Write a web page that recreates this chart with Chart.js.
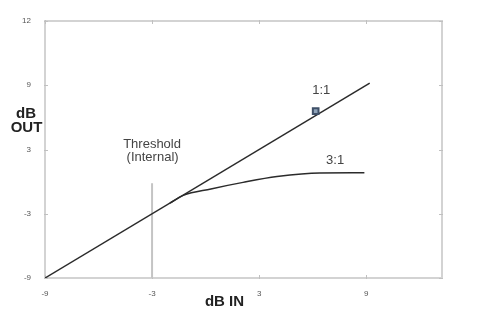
<!DOCTYPE html>
<html>
<head>
<meta charset="utf-8">
<script src="https://cdn.jsdelivr.net/npm/chart.js@4/dist/chart.umd.min.js"></script>
<style>
html,body{margin:0;padding:0;background:#fff;}
#wrap{width:484px;height:328px;}
</style>
</head>
<body>
<div id="wrap"><canvas id="c" width="484" height="328"></canvas></div>
<script>
// ---- data ----
const xTickValues = [-9, -3, 3, 9];
const xTickLabels = ['-9', '-3', '3', '9'];
const yTickValues = [-9, -3, 3, 9, 15];
const yTickLabels = ['-9', '-3', '3', '9', '12'];
const xRange = [-9, 13.25];
const yRange = [-9, 15];

const ratio1X = [-9, 9.2];
const ratio1Y = [-9, 9.2];
const ratio3X = [-2.0, -1.25, 0.3, 2.1, 4.0, 6.4, 8.9];
const ratio3Y = [-2.0, -1.28, -0.68, -0.07, 0.47, 0.81, 0.82];
const thresholdX = [-3, -3];
const thresholdY = [-9, -0.15];
const markerX = [6.17];
const markerY = [6.58];

const labels = [
  {text: '1:1', x: 6.48, y: 8.51},
  {text: '3:1', x: 7.26, y: 1.97},
  {text: 'Threshold', x: -3.0, y: 3.51},
  {text: '(Internal)', x: -2.97, y: 2.25}
];

const pts = (xs, ys) => xs.map((x, i) => ({x: x, y: ys[i]}));
const FONT = '"Liberation Sans", Arial, sans-serif';

const framePlugin = {
  id: 'frame',
  beforeDatasetsDraw(chart) {
    const {ctx, chartArea: a, scales: {x, y}} = chart;
    ctx.save();
    ctx.strokeStyle = '#d3d3d3';
    ctx.lineWidth = 2;
    ctx.strokeRect(a.left, a.top, a.right - a.left, a.bottom - a.top);
    ctx.lineWidth = 1;
    ctx.strokeStyle = '#c0c0c0';
    xTickValues.forEach(v => {
      const px = Math.round(x.getPixelForValue(v)) + 0.5;
      ctx.beginPath(); ctx.moveTo(px, a.bottom + 1); ctx.lineTo(px, a.bottom - 3); ctx.stroke();
      ctx.beginPath(); ctx.moveTo(px, a.top - 1); ctx.lineTo(px, a.top + 3); ctx.stroke();
    });
    yTickValues.forEach(v => {
      const py = Math.round(y.getPixelForValue(v)) + 0.5;
      ctx.beginPath(); ctx.moveTo(a.left - 1, py); ctx.lineTo(a.left + 3, py); ctx.stroke();
      ctx.beginPath(); ctx.moveTo(a.right + 1, py); ctx.lineTo(a.right - 3, py); ctx.stroke();
    });
    ctx.restore();
  },
  afterDraw(chart) {
    const {ctx, scales: {x, y}} = chart;
    ctx.save();
    ctx.fillStyle = '#444';
    ctx.font = '13px ' + FONT;
    ctx.textAlign = 'center';
    ctx.textBaseline = 'middle';
    labels.forEach(l => ctx.fillText(l.text, x.getPixelForValue(l.x), y.getPixelForValue(l.y)));
    ctx.fillStyle = '#222';
    ctx.font = 'bold 15px ' + FONT;
    ctx.textBaseline = 'alphabetic';
    ctx.fillText('dB', 26, 118);
    ctx.fillText('OUT', 26.5, 132);
    ctx.fillText('dB IN', 224.5, 306);
    ctx.restore();
  }
};

new Chart(document.getElementById('c'), {
  type: 'scatter',
  data: {
    datasets: [
      {data: pts(markerX, markerY), showLine: false, pointStyle: 'rect', pointRadius: 4,
       backgroundColor: '#8ea2b8', borderColor: '#3f5068', borderWidth: 2, order: 0},
      {data: pts(ratio1X, ratio1Y), showLine: true, borderColor: '#2b2b2b', borderWidth: 1.5,
       pointRadius: 0, order: 1},
      {data: pts(ratio3X, ratio3Y), showLine: true, borderColor: '#2b2b2b', borderWidth: 1.5,
       pointRadius: 0, cubicInterpolationMode: 'monotone', order: 2},
      {data: pts(thresholdX, thresholdY), showLine: true, borderColor: '#c4c4c4', borderWidth: 2,
       pointRadius: 0, order: 3}
    ]
  },
  options: {
    responsive: false,
    animation: false,
    devicePixelRatio: 1,
    layout: {padding: {top: 21, right: 42, left: 0, bottom: 0}},
    plugins: {legend: {display: false}, tooltip: {enabled: false}},
    scales: {
      x: {
        type: 'linear', min: xRange[0], max: xRange[1],
        grid: {display: false}, border: {display: false},
        afterBuildTicks: s => { s.ticks = xTickValues.map(v => ({value: v})); },
        afterFit: s => { s.height = 50; },
        ticks: {
          autoSkip: false, maxRotation: 0, padding: 3, color: '#555',
          font: {size: 8, family: FONT},
          callback: v => xTickLabels[xTickValues.indexOf(v)]
        }
      },
      y: {
        type: 'linear', min: yRange[0], max: yRange[1],
        grid: {display: false}, border: {display: false},
        afterBuildTicks: s => { s.ticks = yTickValues.map(v => ({value: v})); },
        afterFit: s => { s.width = 45; },
        ticks: {
          autoSkip: false, padding: 6, color: '#555',
          font: {size: 8, family: FONT},
          callback: v => yTickLabels[yTickValues.indexOf(v)]
        }
      }
    }
  },
  plugins: [framePlugin]
});
</script>
</body>
</html>
